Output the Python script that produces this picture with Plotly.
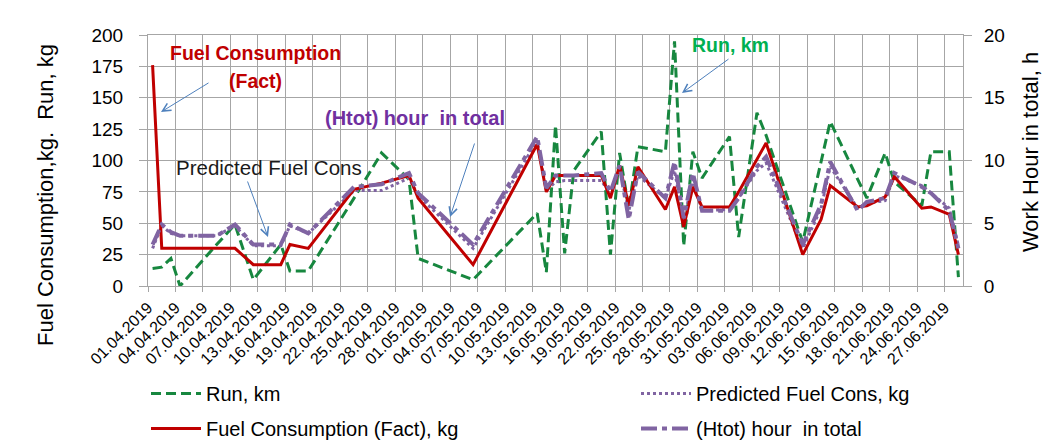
import pandas as pd
import plotly.graph_objects as go

# ---------------- data ----------------
dates = ["01.04.2019", "02.04.2019", "03.04.2019", "04.04.2019", "08.04.2019", "10.04.2019",
         "12.04.2019", "15.04.2019", "16.04.2019", "18.04.2019", "23.04.2019", "26.04.2019",
         "29.04.2019", "30.04.2019", "06.05.2019", "13.05.2019", "14.05.2019", "15.05.2019",
         "16.05.2019", "17.05.2019", "20.05.2019", "21.05.2019", "22.05.2019", "23.05.2019",
         "24.05.2019", "27.05.2019", "28.05.2019", "29.05.2019", "30.05.2019", "31.05.2019",
         "03.06.2019", "04.06.2019", "06.06.2019", "07.06.2019", "11.06.2019", "13.06.2019",
         "14.06.2019", "17.06.2019", "18.06.2019", "20.06.2019", "21.06.2019", "24.06.2019",
         "25.06.2019", "27.06.2019", "28.06.2019"]

run_km = [14, 15, 22, 0, 33, 49, 5, 33, 12, 12, 70, 106, 85, 22, 5, 58, 11, 128, 26, 92,
          123, 25, 106, 62, 111, 107, 195, 32, 107, 86, 119, 39, 138, 120, 35, 98, 131, 85,
          70, 106, 83, 64, 107, 107, 7]

fuel_fact = [176, 30, 30, 30, 30, 30, 17, 17, 33, 30, 77, 82, 88, 70, 17, 113, 75, 88, 88, 88,
             88, 70, 96, 64, 95, 61, 79, 47, 79, 63, 63, 75, 101, 114, 25, 53, 80, 63, 64, 71,
             87, 62, 63, 57, 25]

predicted = [30, 48, 42, 40, 40, 48, 32, 32, 48, 42, 76, 76, 86, 72, 30, 116, 76, 83, 84, 84,
             84, 73, 93, 60, 88, 70, 92, 52, 85, 60, 61, 70, 92, 98, 30, 62, 95, 62, 66, 68,
             88, 80, 74, 62, 32]

htot_hours = [3.3, 4.9, 4.3, 4.0, 4.0, 4.9, 3.3, 3.3, 4.9, 4.2, 7.9, 8.1, 9.0, 7.4, 3.3, 11.9,
              7.8, 8.8, 8.8, 8.8, 9.0, 7.5, 9.6, 5.3, 9.1, 7.0, 9.9, 5.4, 9.0, 6.0, 6.0, 7.0,
              9.5, 10.3, 3.3, 6.5, 9.9, 6.0, 6.7, 7.0, 9.0, 7.9, 7.4, 6.0, 3.0]

left_ticks = [0, 25, 50, 75, 100, 125, 150, 175, 200]
right_ticks = [0, 5, 10, 15, 20]

# ---------------- figure ----------------
# Excel date axis: each day is a slot, points sit in the middle of their day
x = pd.to_datetime(dates, format="%d.%m.%Y") + pd.Timedelta(hours=12)

FONT = "Liberation Sans, Arial, sans-serif"
GREEN = "#17873F"
RED = "#C00000"
PURPLE = "#8064A2"
GRID = "#A6A6A6"

OFF = 8  # page body margin of the html page
# plot area in page pixels
PL, PR, PT, PB = 148, 963, 35, 286
W, H = 1058 - OFF, 445 - OFF
L, T = PL - OFF, PT - OFF
R, B = W - (PR - OFF), H - (PB - OFF)
PW, PH = PR - PL, PB - PT


def px(xp):
    return (xp - PL) / PW


def py(yp):
    return (PB - yp) / PH


fig = go.Figure()
fig.add_trace(go.Scatter(x=x, y=run_km, mode="lines", name="Run, km", showlegend=True,
                         line=dict(color=GREEN, width=3, dash="10px,5px"), legend="legend"))
fig.add_trace(go.Scatter(x=x, y=predicted, mode="lines", name="Predicted Fuel Cons, kg",
                         line=dict(color=PURPLE, width=3, dash="dot"), legend="legend2"))
fig.add_trace(go.Scatter(x=x, y=fuel_fact, mode="lines", name="Fuel Consumption (Fact), kg",
                         line=dict(color=RED, width=3), legend="legend3"))
fig.add_trace(go.Scatter(x=x, y=htot_hours, mode="lines", name="(Htot) hour  in total",
                         line=dict(color=PURPLE, width=4, dash="16px,5px,5px,5px"),
                         yaxis="y2", legend="legend4"))

annotations = []


def text_ann(txt, cx, cy, color, size, bold=False):
    annotations.append(dict(text=f"<b>{txt}</b>" if bold else txt, x=px(cx), y=py(cy),
                            xref="paper", yref="paper", showarrow=False,
                            xanchor="center", yanchor="middle",
                            font=dict(family=FONT, size=size, color=color)))


def arrow_ann(tx, ty, hx, hy):
    annotations.append(dict(text="", x=px(hx), y=py(hy), xref="paper", yref="paper",
                            ax=tx - hx, ay=ty - hy, showarrow=True, arrowhead=5,
                            arrowsize=1.6, arrowwidth=1, arrowcolor="#4F81BD", standoff=0,
                            startstandoff=0))


text_ann("Fuel Consumption", 255, 53, RED, 19.5, True)
text_ann("(Fact)", 255, 81, RED, 19.5, True)
text_ann("(Htot) hour  in total", 415, 118, "#7030A0", 20, True)
text_ann("Predicted Fuel Cons", 269, 167, "#1A1A1A", 20.5)
text_ann("Run, km", 730, 45, "#00B050", 19.5, True)

arrow_ann(210, 82, 161, 112)
arrow_ann(247, 180, 268, 237)
arrow_ann(475, 142, 450, 217)
arrow_ann(730, 58, 682, 93)

# axis titles
annotations.append(dict(text="Fuel Consumption,kg.  Run, kg", x=px(45), y=py(195),
                        xref="paper", yref="paper", showarrow=False, textangle=-90,
                        xanchor="center", yanchor="middle",
                        font=dict(family=FONT, size=22, color="#000000")))
annotations.append(dict(text="Work Hour in total, h", x=px(1030), y=py(152),
                        xref="paper", yref="paper", showarrow=False, textangle=-90,
                        xanchor="center", yanchor="middle",
                        font=dict(family=FONT, size=22, color="#000000")))


def legend_box(lx, ly):
    return dict(orientation="h", x=px(lx), y=py(ly), xanchor="left", yanchor="top",
                itemwidth=50, font=dict(family=FONT, size=20, color="#000000"),
                bgcolor="rgba(0,0,0,0)")


fig.update_layout(
    width=W, height=H,
    showlegend=True,
    margin=dict(l=L, r=R, t=T, b=B, autoexpand=False),
    paper_bgcolor="white", plot_bgcolor="white",
    font=dict(family=FONT, color="#000000"),
    annotations=annotations,
    xaxis=dict(type="date", range=["2019-04-01", "2019-06-29"], tick0="2019-04-01",
               dtick=3 * 86400000, tickformat="%d.%m.%Y", tickangle=-45,
               showgrid=True, gridcolor=GRID, gridwidth=1,
               showline=True, linecolor=GRID, linewidth=1, mirror=True,
               ticks="outside", ticklen=5, tickcolor=GRID,
               tickfont=dict(family=FONT, size=16, color="#000000")),
    yaxis=dict(range=[0, 200], tickvals=left_ticks, showgrid=True, gridcolor=GRID,
               gridwidth=1, zeroline=False, showline=True, linecolor=GRID,
               ticks="outside", ticklen=8, tickcolor=GRID, ticklabelstandoff=12,
               tickfont=dict(family=FONT, size=19, color="#000000")),
    yaxis2=dict(range=[0, 20], tickvals=right_ticks, overlaying="y", side="right",
                showgrid=False, zeroline=False, showline=True, linecolor=GRID,
                ticks="outside", ticklen=8, tickcolor=GRID, ticklabelstandoff=8,
                tickfont=dict(family=FONT, size=19, color="#000000")),
    legend=legend_box(146, 374),
    legend2=legend_box(636, 374),
    legend3=legend_box(146, 409),
    legend4=legend_box(636, 409),
)

fig.write_html("out.html")
